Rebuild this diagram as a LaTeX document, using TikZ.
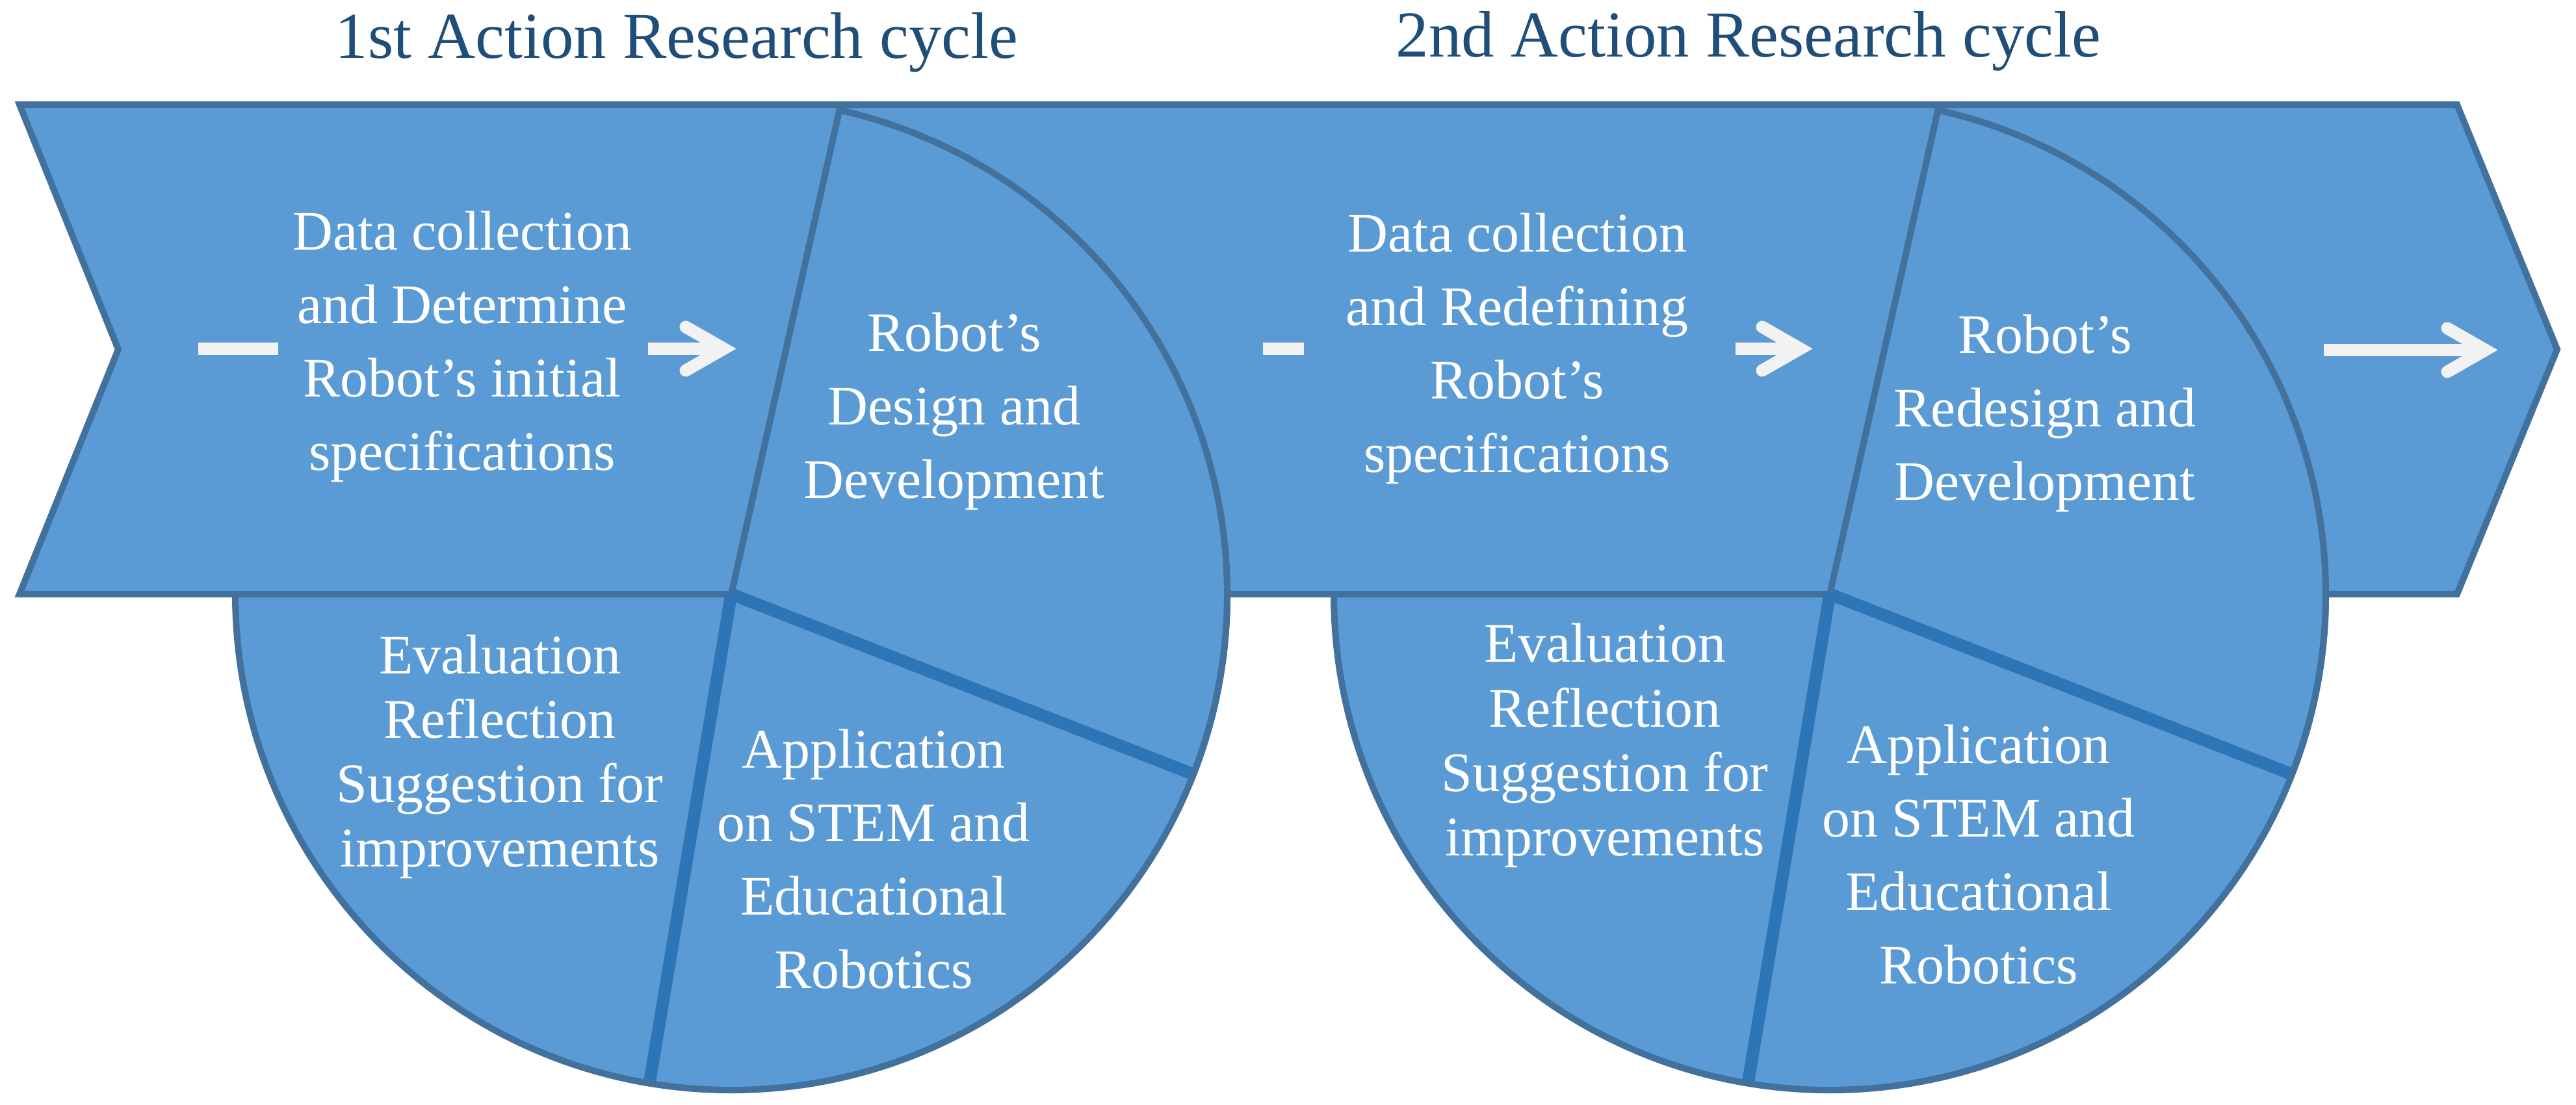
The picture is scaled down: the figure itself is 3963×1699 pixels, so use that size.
\documentclass[tikz,border=0pt]{standalone}
\usepackage{fontspec}
\setmainfont{Liberation Serif}
\definecolor{fillb}{HTML}{5B9BD5}
\definecolor{lineb}{HTML}{41719C}
\definecolor{thickb}{HTML}{2E75B6}
\definecolor{arrw}{HTML}{F2F2F2}
\definecolor{titleb}{HTML}{1F4E79}
\begin{document}
\begin{tikzpicture}[x=0.01cm,y=0.01cm,
  blueshape/.style={fill=fillb,draw=lineb,line width=2.85pt,line join=miter},
  divider/.style={draw=thickb,line width=5.4pt},
  body/.style={text=white,font=\fontsize{24.4}{32.15}\selectfont,align=center,inner sep=0pt},
  evalbody/.style={body,font=\fontsize{24.4}{28.2}\selectfont},
  titletext/.style={text=titleb,font=\fontsize{28.7}{34}\selectfont,inner sep=0pt,anchor=base},
  whitebar/.style={fill=arrw},
  chevron/.style={draw=arrw,line width=5.4pt,line cap=round,line join=miter}]
\useasboundingbox (0,0) rectangle (3963,1699);

% centres of the two pies
\coordinate (c1) at (1125,785);
\coordinate (c2) at (2815,785);

% lower halves of the circles
\path[blueshape] (c1) ++(180:763) arc[start angle=180,end angle=360,radius=763] -- cycle;
\path[blueshape] (c2) ++(180:763) arc[start angle=180,end angle=360,radius=763] -- cycle;

% band (chevron)
\path[blueshape] (30,1538) -- (3780,1538) -- (3934,1161.5) -- (3780,785)
  -- (30,785) -- (182,1161.5) -- cycle;

% design sectors on top of the band
\path[blueshape] (c1) -- ++(77.4:763) arc[start angle=77.4,end angle=-21.3,radius=763] -- cycle;
\path[blueshape] (c2) -- ++(77.4:763) arc[start angle=77.4,end angle=-21.3,radius=763] -- cycle;

% thick dividers
\draw[divider] (c1) -- ++(-21.3:758);
\draw[divider] (c1) -- ++(-99.5:758);
\draw[divider] (c2) -- ++(-21.3:758);
\draw[divider] (c2) -- ++(-99.5:758);

% bars and arrows
\fill[whitebar] (305,1153) rectangle (428,1172);
\fill[whitebar] (1943,1153) rectangle (2006,1172);

\fill[whitebar] (997,1153) rectangle (1108,1172);
\draw[chevron] (1055,1196) -- (1113.5,1162.5) -- (1055,1129);

\fill[whitebar] (2670,1153) rectangle (2762,1172);
\draw[chevron] (2711,1196) -- (2769.5,1162.5) -- (2711,1129);

\fill[whitebar] (3575,1151) rectangle (3817,1170);
\draw[chevron] (3765,1194) -- (3823.5,1160.5) -- (3765,1127);

% titles
\node[titletext] (t1) at (1041,1609) {1st Action Research cycle};
\node[titletext] (t2) at (2690,1611) {2nd Action Research cycle};

% texts
\node[body] (dc1) at (711,1165.5) {Data collection\\and Determine\\Robot’s initial\\specifications};
\node[body] (dc2) at (2334,1162.5) {Data collection\\and Redefining\\Robot’s\\specifications};
\node[body] (dd1) at (1468,1066.5) {Robot’s\\Design and\\Development};
\node[body] (dd2) at (3146,1063.5) {Robot’s\\Redesign and\\Development};
\node[evalbody] (ev1) at (769,534.5) {Evaluation\\Reflection\\Suggestion for\\improvements};
\node[evalbody] (ev2) at (2469,552) {Evaluation\\Reflection\\Suggestion for\\improvements};
\node[body] (ap1) at (1344,377.5) {Application\\on STEM and\\Educational\\Robotics};
\node[body] (ap2) at (3044,384) {Application\\on STEM and\\Educational\\Robotics};
\end{tikzpicture}
\end{document}
